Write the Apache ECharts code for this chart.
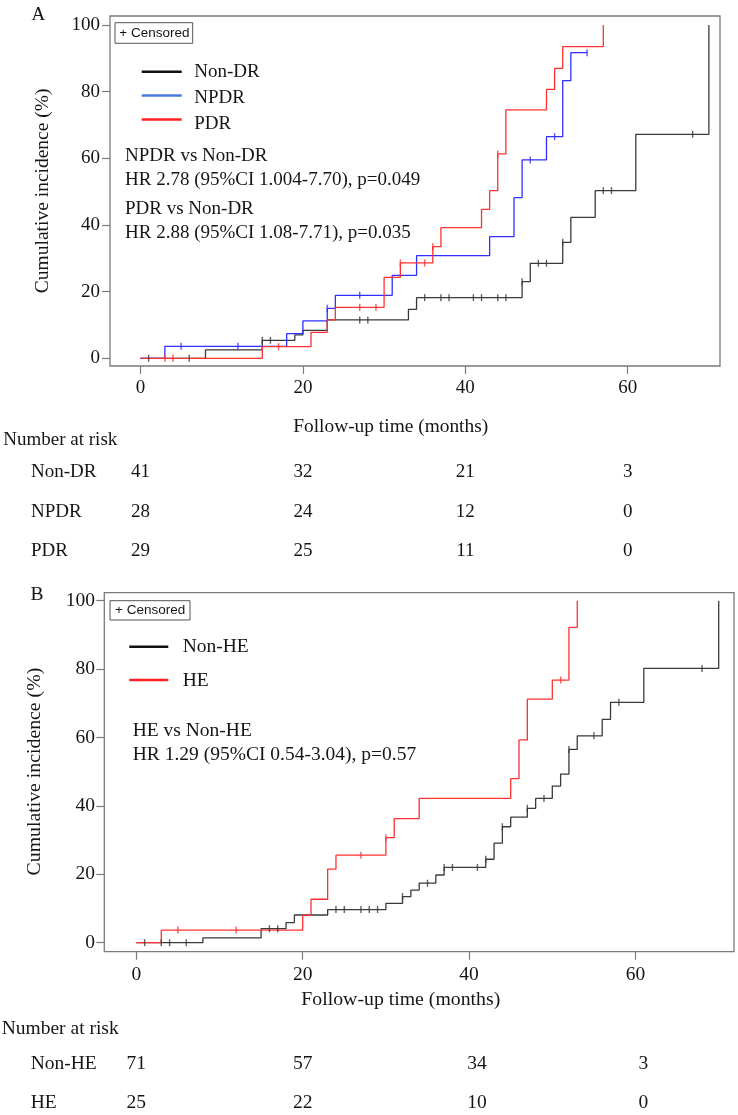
<!DOCTYPE html>
<html><head><meta charset="utf-8">
<script src="https://cdn.jsdelivr.net/npm/echarts/dist/echarts.min.js"></script>
<style>html,body{margin:0;padding:0;background:#fff}#c{width:738px;height:1115px}</style>
</head><body><div id="c"></div>
<script>
// ---------------- data: panel A ----------------
const nonDrTimes = [0, 8, 15, 19, 20, 23, 33, 34, 47, 48, 52, 53, 56, 61, 70];
const nonDrInc   = [0, 2.5, 5.4, 7.0, 8.4, 11.5, 14.7, 18.2, 23.0, 28.5, 34.8, 42.3, 50.3, 67.2, 100];
const nonDrCens  = [1, 6, 15, 16, 27, 28, 35, 37, 38, 41, 42, 44, 45, 47, 49, 50, 52, 57, 58, 68];

const npdrTimes = [0, 3, 18, 20, 23, 24, 31, 34, 43, 46, 47, 50, 52, 53, 55];
const npdrInc   = [0, 3.6, 7.4, 11.2, 15.0, 18.9, 24.9, 30.8, 36.5, 48.2, 59.5, 66.5, 83.3, 91.7, 91.7];
const npdrCens  = [5, 12, 23, 27, 48, 51, 55];

const pdrTimes = [0, 15, 21, 23, 24, 30, 32, 36, 37, 42, 43, 44, 45, 50, 51, 52, 57];
const pdrInc   = [0, 3.5, 7.8, 11.5, 15.3, 24.3, 28.6, 33.5, 39.2, 44.7, 50.3, 61.3, 74.5, 80.7, 87.0, 93.5, 100];
const pdrCens  = [3, 4, 17, 27, 29, 32, 35, 36, 44];

// ---------------- data: panel B ----------------
const nonHeTimes = [0, 8, 15, 18, 19, 23, 30, 32, 33, 34, 36, 37, 42, 43, 44, 45, 47, 48, 50, 51, 52, 53, 56, 57, 61, 70];
const nonHeInc   = [0, 1.4, 4.1, 5.9, 8.1, 9.7, 11.5, 13.5, 15.4, 17.4, 19.8, 22.0, 24.4, 29.1, 33.9, 36.7, 39.3, 42.2, 45.8, 49.3, 56.5, 60.5, 65.3, 70.3, 80.2, 100];
const nonHeCens  = [1, 3, 4, 6, 16, 17, 24, 25, 27, 28, 29, 32, 35, 37, 38, 41, 42, 44, 47, 49, 52, 55, 58, 68];

const heTimes = [0, 3, 20, 21, 23, 24, 30, 31, 34, 45, 46, 47, 50, 52, 53];
const heInc   = [0, 3.7, 8.0, 12.7, 21.5, 25.6, 30.7, 36.3, 42.2, 48.0, 59.3, 71.2, 76.8, 92.2, 100];
const heCens  = [5, 12, 27, 30, 51];

// ---------------- ticks & risk table ----------------
const xTicks = [0, 20, 40, 60];
const yTicks = [0, 20, 40, 60, 80, 100];
const riskTimes = [0, 20, 40, 60];
const riskNonDR = [41, 32, 21, 3];
const riskNPDR  = [28, 24, 12, 0];
const riskPDR   = [29, 25, 11, 0];
const riskNonHE = [71, 57, 34, 3];
const riskHE    = [25, 22, 10, 0];

// ---------------- styling ----------------
const SERIF = '"Liberation Serif","Times New Roman",serif';
const SANS = '"Liberation Sans",Arial,sans-serif';
const TXT = '#151515';
const FRAME = '#7a7a7a';
const C_BLACK = '#3a3a3a', C_BLUE = '#2f2fff', C_RED = '#ff3030';

function levelAt(ts, ps, t) { let v = ps[0]; for (let i = 0; i < ts.length; i++) if (ts[i] <= t) v = ps[i]; return v; }
function curve(ts, ps, color, gi) {
  return { type: 'line', xAxisIndex: gi, yAxisIndex: gi, step: 'end', symbol: 'none', silent: true,
    data: ts.map((t, i) => [t, ps[i]]), lineStyle: { color, width: 1.3 }, itemStyle: { color }, z: 3 };
}
function censor(ts, ps, cs, color, gi) {
  return { type: 'scatter', xAxisIndex: gi, yAxisIndex: gi, symbol: 'rect', symbolSize: [1.4, 7], silent: true,
    data: cs.map(c => [c, levelAt(ts, ps, c)]), itemStyle: { color }, z: 4 };
}
function xAx(gi, min, max, fs, margin) {
  return { gridIndex: gi, type: 'value', position: 'bottom', min, max, splitLine: { show: false },
    axisLine: { show: false, onZero: false },
    axisTick: { show: true, customValues: xTicks, length: 8, lineStyle: { color: FRAME, width: 1.2 } },
    axisLabel: { customValues: xTicks, margin, fontFamily: SERIF, fontSize: fs, color: TXT } };
}
function yAx(gi, min, max, fs, margin) {
  return { gridIndex: gi, type: 'value', position: 'left', min, max, splitLine: { show: false },
    axisLine: { show: false, onZero: false },
    axisTick: { show: true, customValues: yTicks, length: 8, lineStyle: { color: FRAME, width: 1.2 } },
    axisLabel: { customValues: yTicks, margin, fontFamily: SERIF, fontSize: fs, color: TXT } };
}

const chart = echarts.init(document.getElementById('c'), null, { renderer: 'canvas' });
chart.setOption({
  animation: false,
  backgroundColor: '#ffffff',
  grid: [
    { left: 110, top: 16, width: 610, height: 350, show: true, borderColor: FRAME, borderWidth: 1.3, backgroundColor: 'transparent' },
    { left: 104.3, top: 592.7, width: 629.7, height: 359, show: true, borderColor: FRAME, borderWidth: 1.3, backgroundColor: 'transparent' }
  ],
  xAxis: [xAx(0, -3.756, 71.37, 19, 12.5), xAx(1, -3.846, 71.84, 19.5, 13)],
  yAxis: [yAx(0, -2.31, 102.69, 19, 10), yAx(1, -2.63, 102.34, 19.5, 9.3)],
  series: [
    curve(nonDrTimes, nonDrInc, C_BLACK, 0), censor(nonDrTimes, nonDrInc, nonDrCens, C_BLACK, 0),
    curve(npdrTimes, npdrInc, C_BLUE, 0), censor(npdrTimes, npdrInc, npdrCens, C_BLUE, 0),
    curve(pdrTimes, pdrInc, C_RED, 0), censor(pdrTimes, pdrInc, pdrCens, C_RED, 0),
    curve(nonHeTimes, nonHeInc, C_BLACK, 1), censor(nonHeTimes, nonHeInc, nonHeCens, C_BLACK, 1),
    curve(heTimes, heInc, C_RED, 1), censor(heTimes, heInc, heCens, C_RED, 1)
  ]
});

// ---------------- annotations ----------------
function text(x, y, s, size, opts) {
  opts = opts || {};
  return { type: 'text', x, y, z: 100, rotation: opts.rotation || 0,
    style: { text: s, fontFamily: opts.family || SERIF, fontSize: size, fill: TXT,
      align: opts.align || 'left', verticalAlign: 'middle' } };
}
function line(x1, y1, x2, y2, color, w) {
  return { type: 'line', z: 100, shape: { x1, y1, x2, y2 }, style: { stroke: color, lineWidth: w } };
}
function box(x, y, w, h) {
  return { type: 'rect', z: 99, shape: { x, y, width: w, height: h }, style: { fill: '#fff', stroke: '#555', lineWidth: 1 } };
}

const g = [];
// Panel A
g.push(text(31.5, 15, 'A', 19));
g.push(box(115, 22.7, 77.7, 20.6));
g.push(text(119.3, 33.2, '+ Censored', 13.5, { family: SANS }));
g.push(line(141.7, 71.7, 181.7, 71.7, '#111111', 2.5));
g.push(line(141.7, 95.5, 181.7, 95.5, '#4a78dc', 2.5));
g.push(line(141.7, 119.5, 181.7, 119.5, '#ff2020', 2.5));
g.push(text(194.3, 72, 'Non-DR', 19));
g.push(text(194.3, 98.5, 'NPDR', 19));
g.push(text(194.3, 124.5, 'PDR', 19));
g.push(text(125, 156.5, 'NPDR vs Non-DR', 19));
g.push(text(125, 180.5, 'HR 2.78 (95%CI 1.004-7.70), p=0.049', 19));
g.push(text(125, 209.5, 'PDR vs Non-DR', 19));
g.push(text(125, 233, 'HR 2.88 (95%CI 1.08-7.71), p=0.035', 19));
g.push(text(43.3, 190.8, 'Cumulative incidence (%)', 19.5, { align: 'center', rotation: Math.PI / 2 }));
g.push(text(390.7, 427.3, 'Follow-up time (months)', 19.4, { align: 'center' }));
g.push(text(3.3, 440, 'Number at risk', 19));
const rowsA = [['Non-DR', riskNonDR, 472.3], ['NPDR', riskNPDR, 511.7], ['PDR', riskPDR, 551]];
rowsA.forEach(([lab, vals, y]) => {
  g.push(text(31, y, lab, 19));
  vals.forEach((v, i) => g.push(text(chart.convertToPixel({ xAxisIndex: 0 }, riskTimes[i]), y, String(v), 19, { align: 'center' })));
});
// Panel B
g.push(text(30.5, 595, 'B', 19.5));
g.push(box(110, 600.7, 80, 19.3));
g.push(text(115, 610.6, '+ Censored', 13.5, { family: SANS }));
g.push(line(129.3, 646.7, 168.3, 646.7, '#111111', 2.5));
g.push(line(129.3, 680, 168.3, 680, '#ff2020', 2.5));
g.push(text(182.7, 647, 'Non-HE', 19.5));
g.push(text(182.7, 681.3, 'HE', 19.5));
g.push(text(132.7, 731.3, 'HE vs Non-HE', 19.5));
g.push(text(132.7, 754.5, 'HR 1.29 (95%CI 0.54-3.04), p=0.57', 19.5));
g.push(text(35, 771.6, 'Cumulative incidence (%)', 19.8, { align: 'center', rotation: Math.PI / 2 }));
g.push(text(400.8, 1000, 'Follow-up time (months)', 19.8, { align: 'center' }));
g.push(text(1.7, 1029.3, 'Number at risk', 19.5));
const rowsB = [['Non-HE', riskNonHE, 1064], ['HE', riskHE, 1102.7]];
rowsB.forEach(([lab, vals, y]) => {
  g.push(text(30.7, y, lab, 19.5));
  vals.forEach((v, i) => g.push(text(chart.convertToPixel({ xAxisIndex: 1 }, riskTimes[i]) + (i >= 2 ? 8 : 0), y, String(v), 19.5, { align: 'center' })));
});
chart.setOption({ graphic: g });
</script></body></html>
